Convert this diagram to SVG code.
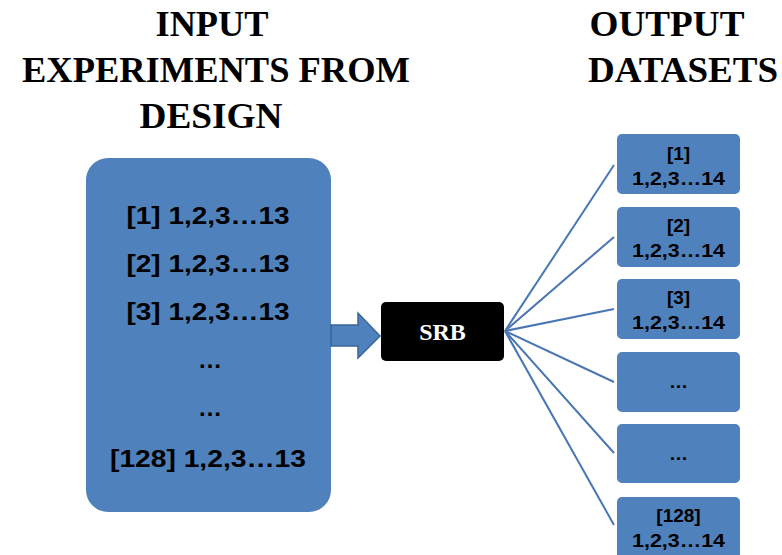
<svg xmlns="http://www.w3.org/2000/svg" width="782" height="555" viewBox="0 0 782 555">
<style>
.title{font-family:"Liberation Serif","Times New Roman",serif;font-weight:bold;font-size:36px;fill:#000;text-anchor:middle}
.box{fill:#4F81BD}
.t{font-family:"Liberation Sans",Arial,sans-serif;font-weight:bold;fill:#000;text-anchor:middle}
.big{font-size:24px}
.small{font-size:19px}
.conn{stroke:#4A77B4;stroke-width:2;fill:none}
</style>
<rect width="782" height="555" fill="#fff"/>
<g id="titles">
<text class="title" x="212" y="36" textLength="113" lengthAdjust="spacingAndGlyphs">INPUT</text>
<text class="title" x="216" y="82" textLength="388" lengthAdjust="spacingAndGlyphs">EXPERIMENTS FROM</text>
<text class="title" x="211" y="128" textLength="143" lengthAdjust="spacingAndGlyphs">DESIGN</text>
<text class="title" x="667" y="36" textLength="155" lengthAdjust="spacingAndGlyphs">OUTPUT</text>
<text class="title" x="683" y="82" textLength="190" lengthAdjust="spacingAndGlyphs">DATASETS</text>
</g>
<g id="input">
<rect class="box" x="86" y="158" width="245" height="354" rx="22"/>
<text class="t big" x="208" y="224" textLength="163" lengthAdjust="spacingAndGlyphs">[1] 1,2,3…13</text>
<text class="t big" x="208" y="272" textLength="163" lengthAdjust="spacingAndGlyphs">[2] 1,2,3…13</text>
<text class="t big" x="208" y="320" textLength="163" lengthAdjust="spacingAndGlyphs">[3] 1,2,3…13</text>
<text class="t big" x="210" y="368">…</text>
<text class="t big" x="210" y="416">…</text>
<text class="t big" x="208" y="467" textLength="196" lengthAdjust="spacingAndGlyphs">[128] 1,2,3…13</text>
</g>
<g id="arrow">
<polygon points="331,325 358,325 358,313 380,336 358,358 358,346 331,346" fill="#4F81BD" stroke="#3A6696" stroke-width="1.5"/>
</g>
<g id="srb">
<rect x="381" y="302" width="123" height="59" rx="5" fill="#000"/>
<text x="442.5" y="340" font-family="Liberation Serif,'Times New Roman',serif" font-weight="bold" font-size="24" fill="#fff" text-anchor="middle">SRB</text>
</g>
<g id="connectors">
<line class="conn" x1="505" y1="331" x2="614" y2="165"/>
<line class="conn" x1="505" y1="331" x2="614" y2="237"/>
<line class="conn" x1="505" y1="331" x2="614" y2="309"/>
<line class="conn" x1="505" y1="331" x2="614" y2="382"/>
<line class="conn" x1="505" y1="331" x2="614" y2="453"/>
<line class="conn" x1="505" y1="331" x2="614" y2="525"/>
</g>
<g id="out1">
<rect class="box" x="617" y="134" width="123" height="60" rx="5"/>
<text class="t small" x="678.5" y="160">[1]</text>
<text class="t small" x="678.5" y="185" textLength="93" lengthAdjust="spacingAndGlyphs">1,2,3…14</text>
</g>
<g id="out2">
<rect class="box" x="617" y="207" width="123" height="60" rx="5"/>
<text class="t small" x="678.5" y="232">[2]</text>
<text class="t small" x="678.5" y="257" textLength="93" lengthAdjust="spacingAndGlyphs">1,2,3…14</text>
</g>
<g id="out3">
<rect class="box" x="617" y="279" width="123" height="60" rx="5"/>
<text class="t small" x="678.5" y="304">[3]</text>
<text class="t small" x="678.5" y="329" textLength="93" lengthAdjust="spacingAndGlyphs">1,2,3…14</text>
</g>
<g id="out4">
<rect class="box" x="617" y="352" width="123" height="60" rx="5"/>
<text class="t small" x="678.5" y="388">…</text>
</g>
<g id="out5">
<rect class="box" x="617" y="424" width="123" height="59" rx="5"/>
<text class="t small" x="678.5" y="460">…</text>
</g>
<g id="out6">
<rect class="box" x="617" y="497" width="123" height="62" rx="5"/>
<text class="t small" x="678.5" y="522">[128]</text>
<text class="t small" x="678.5" y="547" textLength="93" lengthAdjust="spacingAndGlyphs">1,2,3…14</text>
</g>
</svg>
